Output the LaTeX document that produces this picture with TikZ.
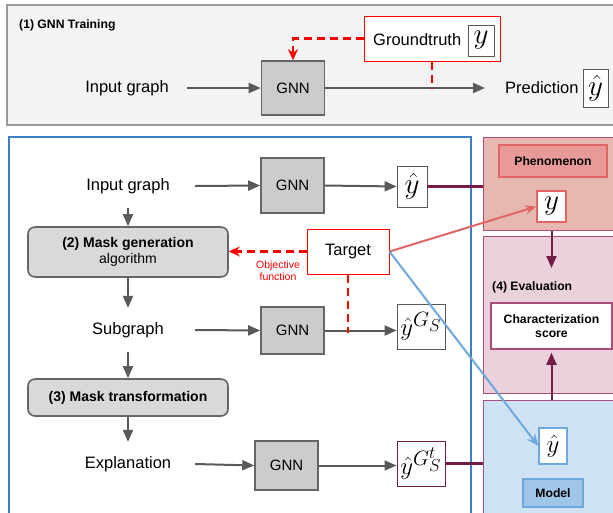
\documentclass[tikz,border=0pt]{standalone}
\usepackage{fontspec}
\setmainfont{Liberation Sans}
\usepackage{xcolor}
\usetikzlibrary{arrows.meta}
\usetikzlibrary{positioning}
\usetikzlibrary{calc}

\definecolor{panelfill}{HTML}{F3F3F3}
\definecolor{panelgray}{HTML}{9A9A9A}
\definecolor{panelblue}{HTML}{3D7FC1}
\definecolor{gnnfill}{HTML}{CCCCCC}
\definecolor{gnnline}{HTML}{666666}
\definecolor{maskfill}{HTML}{D9D9D9}
\definecolor{arrowgray}{HTML}{595959}
\definecolor{phenfill}{HTML}{E6B8AF}
\definecolor{phenline}{HTML}{E06666}
\definecolor{phenbox}{HTML}{EA9999}
\definecolor{evalfill}{HTML}{EAD1DC}
\definecolor{regionline}{HTML}{A64D79}
\definecolor{modelfill}{HTML}{CFE2F3}
\definecolor{modelline}{HTML}{6FA8DC}
\definecolor{modelbox}{HTML}{9FC5E8}
\definecolor{plum}{HTML}{741B47}
\newcommand{\ymath}[1]{\scalebox{1.17}{$#1$}}

\begin{document}
\begin{tikzpicture}[x=1pt,y=-1pt,
		txt/.style={font=\fontsize{16.5}{19}\selectfont, inner sep=0pt},
		lbl/.style={font=\fontsize{12.2}{14.5}\selectfont\bfseries, inner sep=0pt},
		gnn/.style={draw=gnnline, fill=gnnfill, line width=1.6pt, minimum width=63pt, font=\fontsize{15}{18}\selectfont},
		maskbox/.style={draw=gnnline, fill=maskfill, line width=1.6pt, rounded corners=7pt, minimum width=200pt, align=center, font=\fontsize{14}{16}\selectfont},
		ybox/.style={draw=arrowgray, fill=white, line width=0.8pt, inner sep=0pt, font=\fontsize{24.88}{30}\selectfont},
		flow/.style={-{Triangle[length=12pt,width=10pt]}, draw=arrowgray, line width=2pt},
		obj/.style={draw=red, dash pattern=on 8pt off 5pt, line width=2.2pt},
		link/.style={draw=plum, line width=2.6pt},
		region/.style={anchor=north west, draw=regionline, line width=1.2pt, minimum width=140pt}]
	\useasboundingbox (0,0) rectangle (613,512);
	\clip (0,0) rectangle (613,512);
	
	% (1) training panel
	\draw[draw=panelgray, fill=panelfill, line width=1.5pt] (7,5) rectangle (625,125);
	\node[lbl, anchor=west] (ttl) at (19,25) {(1) GNN Training};
	\node[txt, minimum width=120pt] (in0) at (127,88) {Input graph};
	\node[gnn, minimum height=54pt] (g0) at (293,88) {GNN};
	\node[draw=red, fill=white, line width=1pt, minimum width=136pt, minimum height=45pt] (gt) at (432,38.5) {};
	\node[txt, anchor=west] (gtt) at (373,40) {Groundtruth};
	\node[ybox, minimum width=26pt, minimum height=31pt] (gty) at (481,40.5) {\ymath{y}};
	\node[txt, anchor=west] (pr) at (505,88) {Prediction};
	\node[ybox, minimum width=25pt, minimum height=38pt] (pry) at (595.5,88) {\ymath{\hat y}};
	\draw[flow] (in0.east) -- (g0.west);
	\draw[flow] (g0.east) -- ([xshift=-20pt]pr.west);
	\draw[obj, -{Stealth[length=11pt,width=10pt]}] (gt.west) -| (g0.north);
	\draw[obj] (gt.south) -- (gt.south |- g0.east);
	
	% explanation panel
	\draw[draw=panelblue, fill=white, line width=1.5pt] (9,137) rectangle (471,530);
	\node[txt, minimum width=134pt, minimum height=44pt] (in1) at (128,186) {Input graph};
	\node[gnn, minimum height=55pt] (g1) at (292.5,185.5) {GNN};
	\node[ybox, minimum width=30pt, minimum height=41pt] (y1) at (412,186.5) {\ymath{\hat y}};
	\node[maskbox, minimum height=50pt] (mg) at (128,252) {\textbf{(2) Mask generation}\\algorithm};
	\node[draw=red, fill=white, line width=1pt, txt, minimum width=82pt, minimum height=45pt] (tgt) at (348,251.5) {Target};
	\node[red, align=center, font=\fontsize{10.5}{12}\selectfont, inner sep=0pt] (objf) at (278,271) {Objective\\function};
	\node[txt, minimum width=134pt, minimum height=44pt] (sub) at (128,330) {Subgraph};
	\node[gnn, minimum height=47pt] (g2) at (292.5,330.5) {GNN};
	\node[ybox, minimum width=48pt, minimum height=45pt] (y2) at (421,326.5) {$\hat y^{G_S}$};
	\node[maskbox, minimum height=37pt, font=\fontsize{14}{16}\selectfont\bfseries] (mt) at (128,397.5) {(3) Mask transformation};
	\node[txt, minimum width=134pt, minimum height=44pt] (expl) at (128,464) {Explanation};
	\node[gnn, minimum height=49pt] (g3) at (286.5,465.5) {GNN};
	\node[ybox, draw=plum, line width=1pt, minimum width=48pt, minimum height=45pt] (y3) at (421,463.5) {$\hat y^{G_S^t}$};
	
	\draw[flow] (in1.east) -- (g1.west);
	\draw[flow] (g1.east) -- (y1.west);
	\draw[flow] (in1.south) -- (mg.north);
	\draw[flow] (mg.south) -- (sub.north);
	\draw[obj, -{Stealth[length=11pt,width=10pt]}] (tgt.west) -- (tgt.west -| mg.east);
	\draw[flow] (sub.east) -- (g2.west);
	\draw[flow] (g2.east) -- (g2.east -| y2.west);
	\draw[obj] (tgt.south) -- ([yshift=-2pt]tgt.south |- g2.east);
	\draw[flow] (sub.south) -- (mt.north);
	\draw[flow] (mt.south) -- (expl.north);
	\draw[flow] (expl.east) -- (g3.west);
	\draw[flow] (g3.east) -- (g3.east -| y3.west);
	
	% right column
	\node[region, fill=phenfill, minimum height=93pt] (phen) at (483,137) {};
	\node[lbl, draw=phenline, fill=phenbox, line width=1.5pt, minimum width=108pt, minimum height=32pt] (phtxt) at (553,161) {Phenomenon};
	\node[ybox, draw=phenline, line width=1.5pt, minimum width=29pt, minimum height=31pt] (yp) at (551.5,206.5) {\ymath{y}};
	\node[region, fill=evalfill, minimum height=157pt] (eval) at (483,236) {};
	\node[lbl, anchor=west] (evtxt) at (492,287) {(4) Evaluation};
	\node[lbl, draw=regionline, fill=white, line width=1.5pt, minimum width=121pt, minimum height=46pt, align=center] (score) at (551.5,326) {Characterization\\score};
	\node[region, fill=modelfill, minimum height=120pt] (model) at (483,400) {};
	\node[ybox, draw=modelline, line width=1.5pt, minimum width=28pt, minimum height=36pt] (ym) at (553,446) {$\hat y$};
	\node[lbl, draw=modelline, fill=modelbox, line width=1.5pt, minimum width=60pt, minimum height=28pt] (mdl) at (553,493) {Model};
	\coordinate (evin) at (551.5,268);
	
	\draw[link] (y1.east) -- (y1.east -| phen.west);
	\draw[link] (y3.east) -- (y3.east -| model.west);
	\draw[draw=plum, line width=2pt, -{Triangle[length=12pt,width=10pt]}] (yp |- phen.south) -- (evin);
	\draw[draw=plum, line width=2pt, -{Triangle[length=12pt,width=10pt]}, shorten >=3pt] (score |- model.north) -- (score.south);
	\draw[draw=phenline, line width=2pt, -{Stealth[length=11pt,width=9pt]}] (tgt.east) -- (yp.west);
	\draw[draw=modelline, line width=2pt, -{Stealth[length=12pt,width=10pt]}] (tgt.east) -- (ym.west);
\end{tikzpicture}
\end{document}
